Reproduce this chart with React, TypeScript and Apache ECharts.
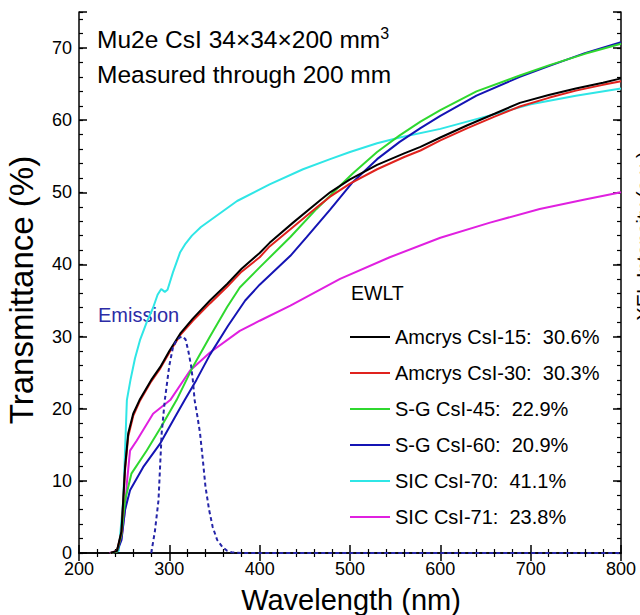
import React, { useEffect, useRef } from "react";
import * as echarts from "echarts";

// ---- data ----
const wlBlack = [235, 242, 247, 251, 254.5, 260, 267, 280, 290, 300, 312, 326, 345, 364, 380, 400, 411, 437, 467, 478, 500, 530, 560, 578, 600, 630, 660, 688, 720, 750, 780, 800];
const tBlack = [0, 0.3, 3, 11.9, 16.6, 19.3, 21.2, 24, 25.8, 28, 30.4, 32.5, 35, 37.3, 39.4, 41.6, 43, 45.8, 48.9, 50, 51.8, 53.8, 55.4, 56.3, 57.6, 59.3, 60.9, 62.4, 63.5, 64.4, 65.2, 65.8];
const tRed = [0, 0.3, 2.8, 11.5, 16.2, 19, 21, 23.8, 25.6, 27.8, 30.2, 32.2, 34.6, 36.9, 39, 41, 42.5, 45.2, 48.3, 49.4, 51.2, 53.2, 54.9, 55.8, 57.2, 58.9, 60.5, 61.9, 63.1, 64.1, 64.9, 65.4];

const wlGreen = [235, 242, 247, 251, 258, 275, 290, 308, 326, 345, 364, 378, 400, 434, 463, 489, 503, 530, 555, 578, 600, 640, 688, 720, 760, 800];
const tGreen = [0, 0.2, 2.5, 7.3, 11, 14.2, 17.3, 21.2, 25.8, 30, 34.1, 36.8, 39.6, 43.8, 47.7, 50.9, 52.6, 55.6, 57.9, 59.8, 61.4, 64, 66.2, 67.6, 69.2, 70.6];

const wlBlue = [235, 242, 247, 251, 256.5, 271, 290, 306, 317, 330, 345, 365, 384, 400, 434, 452, 478, 503, 530, 555, 578, 600, 640, 688, 720, 760, 800];
const tBlue = [0, 0.2, 1.8, 6, 8.7, 11.9, 15.2, 18.8, 21.2, 24, 27.5, 31.5, 35, 37.2, 41.2, 43.8, 47.6, 51.4, 54.6, 57, 58.9, 60.6, 63.4, 66, 67.5, 69.3, 70.8];

const wlCyan = [235, 244, 249, 253, 257, 262, 267.5, 275, 282, 287, 291, 295, 298, 304, 312, 318, 325, 335, 345, 375, 411, 448, 478, 500, 530, 555, 600, 650, 700, 750, 800];
const tCyan = [0, 0.3, 7.3, 21.2, 24, 27, 29.5, 32, 34, 35.8, 36.6, 36.2, 36.5, 38.9, 41.7, 42.9, 44, 45.2, 46.1, 48.8, 51.1, 53.2, 54.6, 55.6, 56.8, 57.6, 58.8, 60.5, 62.2, 63.4, 64.4];

const wlMagenta = [234, 242, 247, 251, 253, 256.5, 264, 282, 301, 323, 345, 378, 400, 434, 489, 544, 600, 655, 710, 760, 800];
const tMagenta = [0, 0.3, 2, 6, 9.7, 14.2, 15.6, 19.3, 21.2, 25.3, 27.8, 30.8, 32.2, 34.3, 38, 41, 43.7, 45.8, 47.7, 49, 50];

const wlEmission = [280, 284, 288, 291.5, 295, 300, 304, 308, 312, 315, 318, 321, 324, 326, 328, 331, 334, 337, 340, 344, 348, 353, 359, 364, 369, 380, 500, 650, 800];
const tEmission = [0, 3, 7.3, 16.6, 21.2, 26, 28.5, 29.5, 29.9, 30, 29.6, 28, 26, 24, 21.2, 19, 16.6, 13, 9.2, 6, 3.6, 1.8, 0.8, 0.3, 0.1, 0, 0, 0, 0];

const seriesNames = [
  "Amcrys CsI-15:\u00a0 30.6%",
  "Amcrys CsI-30:\u00a0 30.3%",
  "S-G CsI-45:\u00a0 22.9%",
  "S-G CsI-60:\u00a0 20.9%",
  "SIC CsI-70:\u00a0 41.1%",
  "SIC CsI-71:\u00a0 23.8%",
];
const seriesColors = ["#000000", "#e0231e", "#2fd82f", "#1414b4", "#2fe6e6", "#e020e0"];
const seriesX = [wlBlack, wlBlack, wlGreen, wlBlue, wlCyan, wlMagenta];
const seriesY = [tBlack, tRed, tGreen, tBlue, tCyan, tMagenta];

const xTicks = { min: 200, max: 800, interval: 100 };
const yTicks = { min: 0, max: 75, interval: 10 };

const FONT = "'Liberation Sans', Arial, Helvetica, sans-serif";

const zip = (xs: number[], ys: number[]) => xs.map((x, i) => [x, ys[i]]);

export default function App() {
  const ref = useRef<HTMLDivElement>(null);

  useEffect(() => {
    document.body.style.margin = "0";
    if (!ref.current) return;
    const chart = echarts.init(ref.current, null, { renderer: "svg" });

    const axisLine = { show: true, lineStyle: { color: "#000", width: 1.5 } };
    const majorTick = { show: true, inside: true, length: 8, lineStyle: { color: "#000", width: 1.5 } };
    const minorTickCfg = { show: true, inside: true, length: 4, lineStyle: { color: "#000", width: 1.2 } };

    const xBase = {
      type: "value" as const,
      min: xTicks.min,
      max: xTicks.max,
      interval: xTicks.interval,
      splitLine: { show: false },
      axisLine,
      axisTick: majorTick,
      minorTick: { show: true, splitNumber: 5, length: 4, lineStyle: { color: "#000", width: 1.2 } },
    };
    const yMajor = {
      type: "value" as const,
      min: yTicks.min,
      max: yTicks.max,
      interval: yTicks.interval,
      splitLine: { show: false },
      axisLine,
      axisTick: majorTick,
    };
    const yMinor = {
      type: "value" as const,
      min: yTicks.min,
      max: yTicks.max,
      interval: 2,
      splitLine: { show: false },
      axisLine: { show: false },
      axisTick: minorTickCfg,
      axisLabel: { show: false },
    };

    const dataSeries = seriesNames.map((name, i) => ({
      name,
      type: "line" as const,
      data: zip(seriesX[i], seriesY[i]),
      showSymbol: false,
      symbol: "none",
      color: seriesColors[i],
      lineStyle: { color: seriesColors[i], width: 2 },
      z: 10 - i,
    }));

    chart.setOption({
      animation: false,
      backgroundColor: "#fff",
      textStyle: { fontFamily: FONT },
      grid: { left: 79, right: 19, top: 12, bottom: 62 },
      xAxis: [
        {
          ...xBase,
          position: "bottom",
          axisLabel: { color: "#000", fontSize: 18, margin: 9, lineHeight: 14, fontFamily: FONT },
        },
        { ...xBase, position: "top", axisLabel: { show: false } },
      ],
      yAxis: [
        {
          ...yMajor,
          position: "left",
          axisLabel: {
            color: "#000",
            fontSize: 18,
            margin: 7,
            lineHeight: 12,
            fontFamily: FONT,
            formatter: (v: number) => (v % 10 === 0 ? String(v) : ""),
          },
        },
        { ...yMinor, position: "left" },
        { ...yMajor, position: "right", axisLabel: { show: false } },
        { ...yMinor, position: "right" },
      ],
      legend: {
        data: seriesNames,
        orient: "vertical",
        left: 345,
        top: 314,
        icon: "rect",
        itemWidth: 40,
        itemHeight: 2,
        itemGap: 0,
        selectedMode: false,
        textStyle: {
          color: "#000",
          fontSize: 20,
          fontFamily: FONT,
          lineHeight: 22,
          padding: [0, 0, 14, 0],
        },
      },
      series: [
        ...dataSeries,
        {
          name: "Emission",
          type: "line",
          data: zip(wlEmission, tEmission),
          showSymbol: false,
          symbol: "none",
          color: "#2525a8",
          lineStyle: { color: "#2525a8", width: 2, type: [4, 3] },
          z: 11,
        },
      ],
      graphic: [
        {
          type: "text",
          x: 97,
          y: 39,
          style: {
            text: "{a|Mu2e CsI 34×34×200 mm}{s|3}",
            verticalAlign: "middle",
            rich: {
              a: { fontSize: 24.5, fontFamily: FONT, fill: "#000", lineHeight: 27 },
              s: { fontSize: 16, fontFamily: FONT, fill: "#000", lineHeight: 16, verticalAlign: "top" },
            },
          },
        },
        {
          type: "text",
          x: 97,
          y: 74,
          style: { text: "Measured through 200 mm", fontSize: 24.5, fontFamily: FONT, fill: "#000", verticalAlign: "middle" },
        },
        {
          type: "text",
          x: 98,
          y: 315,
          style: { text: "Emission", fontSize: 20, fontFamily: FONT, fill: "#2c2ca6", verticalAlign: "middle" },
        },
        {
          type: "text",
          x: 351,
          y: 293,
          style: { text: "EWLT", fontSize: 19.5, fontFamily: FONT, fill: "#000", verticalAlign: "middle" },
        },
        {
          type: "text",
          x: 351,
          y: 600,
          style: { text: "Wavelength (nm)", fontSize: 29, fontFamily: FONT, fill: "#000", align: "center", verticalAlign: "middle" },
        },
        {
          type: "text",
          x: 21,
          y: 290,
          rotation: Math.PI / 2,
          style: { text: "Transmittance (%)", fontSize: 33, fontFamily: FONT, fill: "#000", align: "center", verticalAlign: "middle" },
        },
        {
          type: "text",
          x: 644,
          y: 236,
          rotation: Math.PI / 2,
          style: { text: "XEL Intensity (a.u.)", fontSize: 20, fontFamily: FONT, fill: "#000", align: "center", verticalAlign: "middle" },
        },
      ],
    });

    return () => chart.dispose();
  }, []);

  return <div ref={ref} style={{ width: 640, height: 615 }} />;
}
